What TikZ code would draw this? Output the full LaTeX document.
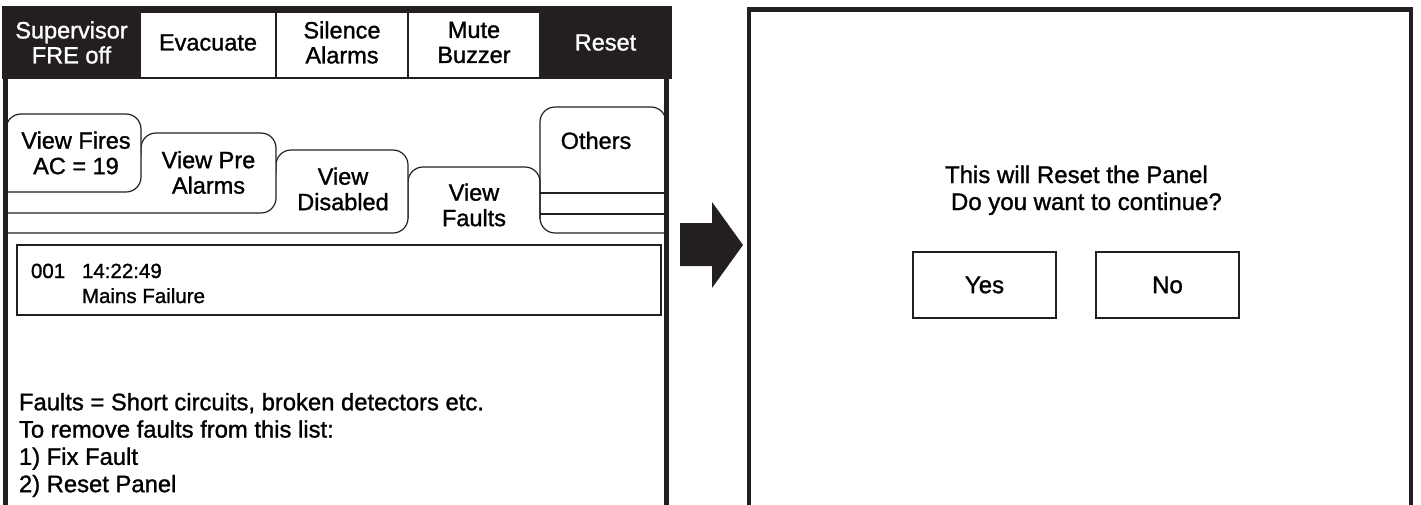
\documentclass[tikz,border=0pt]{standalone}
\usepackage{fontspec}
\setmainfont{Liberation Sans}[UprightFeatures={FakeBold=1.2}]
\usetikzlibrary{positioning}
\definecolor{ink}{RGB}{35,31,32}

% one stacked tab: left, right, top, bottom (runs off to the left, clipped)
\newcommand{\foldertab}[4]{%
  \filldraw[tabline] (-30,#4) -- (#2,#4) -- (#2,#3) -- (#1,#3) -- (#1,#3+35) -- (-30,#3+35) -- cycle;}

\begin{document}
\begin{tikzpicture}[x=1pt, y=-1pt,
    every node/.style={inner sep=0pt, outer sep=0pt},
    barbtn/.style={draw=ink, line width=1.2pt, minimum height=71pt, align=center,
                   font=\fontsize{23.5}{25}\selectfont},
    darkbtn/.style={barbtn, fill=ink, text=white},
    tabline/.style={draw=ink, fill=white, line width=1.2pt, rounded corners=15pt},
    tabedge/.style={draw=ink, line width=1.2pt, rounded corners=15pt},
    tablabel/.style={align=center, font=\fontsize{23.5}{25.5}\selectfont},
    entrytext/.style={font=\fontsize{20.5}{23}\selectfont},
    notetext/.style={align=left, font=\fontsize{23.8}{27.3}\selectfont},
    dlgtext/.style={font=\fontsize{24}{27}\selectfont},
    dlgbtn/.style={draw=ink, line width=1.3pt, minimum width=143pt, minimum height=66pt,
                   font=\fontsize{24}{27}\selectfont},
    panelline/.style={draw=ink, line width=5pt}]
\useasboundingbox (0,0) rectangle (1421,504);

% left screen: button bar
\node[darkbtn, minimum width=137pt] (supervisor) at (71.5,42.5) {Supervisor\\FRE off};
\node[barbtn, minimum width=136pt, right=0pt of supervisor] (evacuate) {Evacuate};
\node[barbtn, minimum width=132pt, right=0pt of evacuate] (silence) {Silence\\Alarms};
\node[barbtn, minimum width=132pt, right=0pt of silence] (mute) {Mute\\Buzzer};
\node[darkbtn, minimum width=131pt, right=0pt of mute] (reset) {Reset};

% tabs
\begin{scope}
  \clip (6,78) rectangle (666,245);
  \filldraw[tabline] (700,233) -- (540,233) -- (540,107) -- (666,107) -- (666,140) -- (700,140) -- cycle;
  \draw[tabedge] (540,193) -- (666,193) (540,214) -- (666,214);
  \draw[tabedge] (408,219) -- (408,167) -- (540,167) -- (540,219);
  \foldertab{276}{408}{150}{233}
  \foldertab{141}{276}{133}{213}
  \foldertab{6}{141}{114}{192}
\end{scope}
\node[tablabel] (fires) at (76,153) {View Fires\\AC = 19};
\node[tablabel] (prealarms) at (208.5,172.5) {View Pre\\Alarms};
\node[tablabel] (disabled) at (343,189) {View\\Disabled};
\node[tablabel] (faults) at (474,205) {View\\Faults};
\node[tablabel] (others) at (596,140.5) {Others};

% fault list
\node[draw=ink, line width=2.5pt, minimum width=644pt, minimum height=70pt] (faultlist) at (339,280) {};
\node[entrytext, anchor=base west] (entryno) at (31,278) {001};
\node[entrytext, anchor=base west] (entrytime) at (82,278) {14:22:49};
\node[entrytext, anchor=base west] (entrymsg) at (82,303) {Mains Failure};

\node[notetext, anchor=north west] (note) at (19,393)
  {Faults = Short circuits, broken detectors etc.\\To remove faults from this list:\\1) Fix Fault\\2) Reset Panel};

\draw[panelline] (5.8,10) rectangle (666,600);

% arrow between the screens
\fill[ink] (680,223) -- (712,223) -- (712,202) -- (743,245) -- (712,288) -- (712,266) -- (680,266) -- cycle;

% right screen: confirm dialog
\draw[panelline, line width=4.5pt] (749,9.5) rectangle (1411,600);
\node[dlgtext, anchor=base west] (msgtop) at (945,183) {This will Reset the Panel};
\node[dlgtext, anchor=base west] (msgbottom) at (951,210) {Do you want to continue?};
\node[dlgbtn] (yes) at (984.5,285) {Yes};
\node[dlgbtn, right=40pt of yes] (no) {No};
\end{tikzpicture}
\end{document}
